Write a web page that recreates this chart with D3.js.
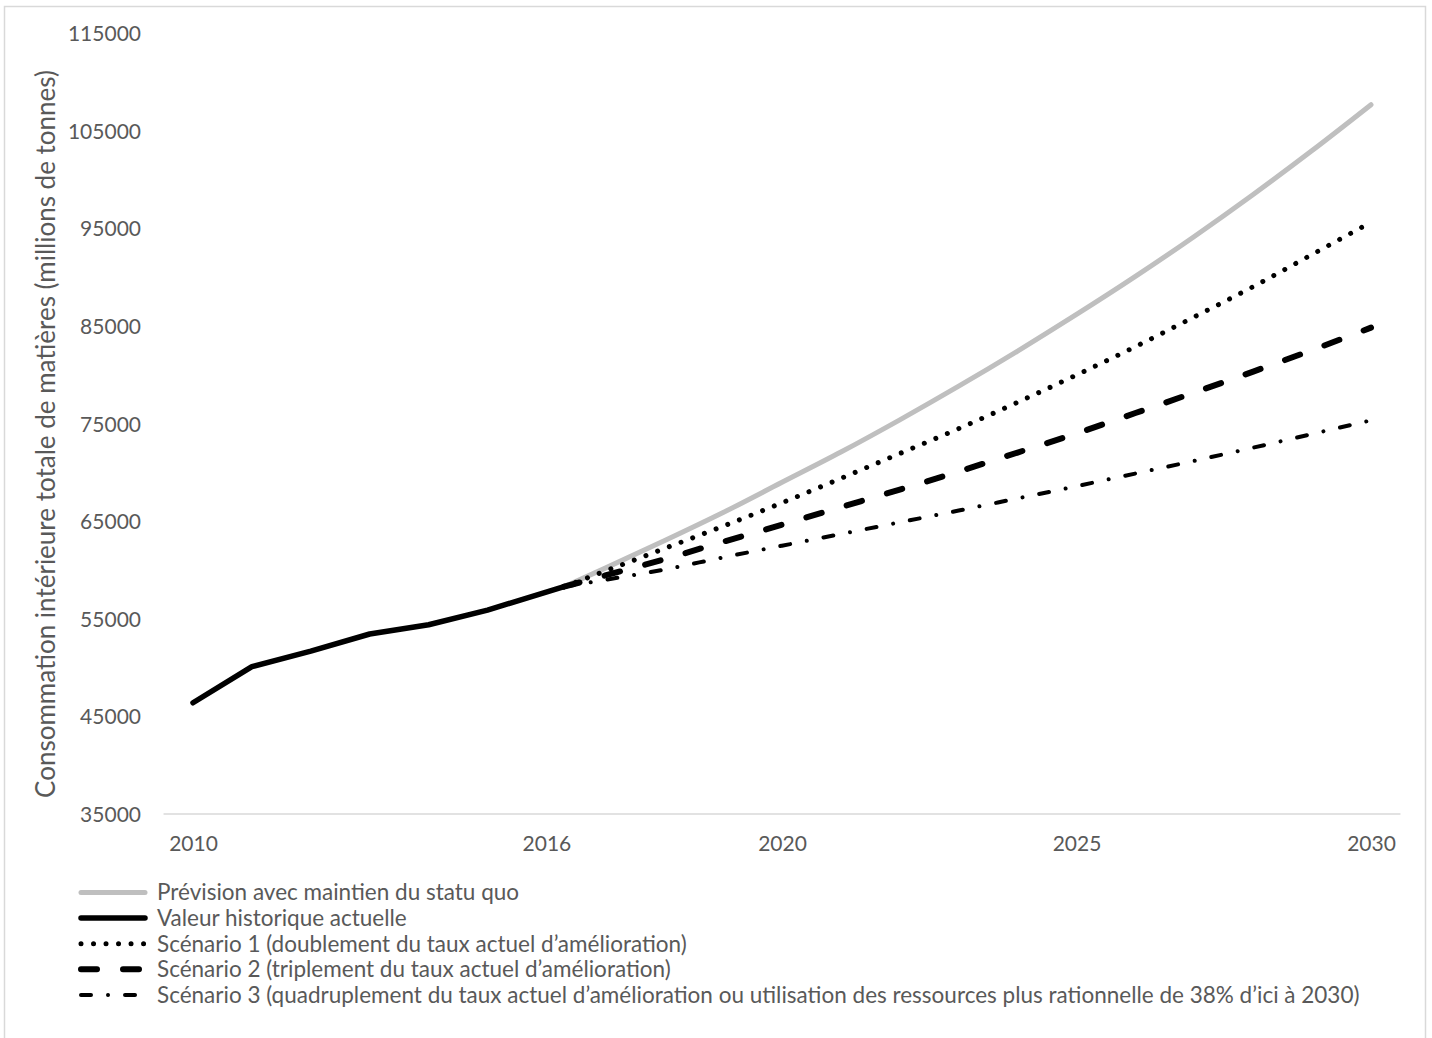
<!DOCTYPE html>
<html>
<head>
<meta charset="utf-8">
<script src="https://cdn.jsdelivr.net/npm/d3@7"></script>
<style>
  body { margin: 0; background: #fff; }
  text { font-family: Lato, "Open Sans", sans-serif; fill: #595959; }
</style>
</head>
<body>
<svg id="chart"></svg>
<script>
// data
const histYears = [2010, 2011, 2012, 2013, 2014, 2015, 2016.3];
const histValues = [46400, 50100, 51700, 53450, 54400, 55900, 58300];

const projYears = [2016.3, 2017, 2018, 2019, 2020, 2021, 2022, 2023, 2024, 2025, 2026, 2027, 2028, 2029, 2030];
const statusQuo = [58300, 60200, 63000, 65900, 69000, 72100, 75400, 78850, 82450, 86200, 90100, 94200, 98500, 103000, 107700];
const scenario1 = [58300, 59900, 62200, 64500, 66900, 69400, 71950, 74500, 77200, 80000, 82900, 85950, 89050, 92350, 95650];
const scenario2 = [58300, 59450, 61100, 62900, 64650, 66450, 68250, 70100, 72050, 74000, 76100, 78200, 80350, 82550, 84850];
const scenario3 = [58300, 59000, 60050, 61300, 62500, 63700, 64900, 66100, 67350, 68600, 69900, 71200, 72550, 73950, 75350];

const xTicks = [2010, 2016, 2020, 2025, 2030];
const yTicks = [35000, 45000, 55000, 65000, 75000, 85000, 95000, 105000, 115000];

const legendLabels = [
  'Prévision avec maintien du statu quo',
  'Valeur historique actuelle',
  'Scénario 1 (doublement du taux actuel d’amélioration)',
  'Scénario 2 (triplement du taux actuel d’amélioration)',
  'Scénario 3 (quadruplement du taux actuel d’amélioration ou utilisation des ressources plus rationnelle de 38% d’ici à 2030)'
];

const width = 1432;
const height = 1038;

const styles = [
  { color: '#bfbfbf', width: 5, dash: null },
  { color: '#000', width: 5.5, dash: null },
  { color: '#000', width: 5, dash: '0.01 12.5' },
  { color: '#000', width: 6, dash: '16 26' },
  { color: '#000', width: 4, dash: '10 17 0.01 17' }
];

const series = [
  { years: projYears, values: statusQuo, curve: d3.curveMonotoneX },
  { years: histYears, values: histValues, curve: d3.curveLinear },
  { years: projYears, values: scenario1, curve: d3.curveMonotoneX },
  { years: projYears, values: scenario2, curve: d3.curveMonotoneX },
  { years: projYears, values: scenario3, curve: d3.curveMonotoneX }
];

const svg = d3.select('#chart')
  .attr('width', width)
  .attr('height', height);

// outer frame
svg.append('rect')
  .attr('x', 4.5).attr('y', 6.5)
  .attr('width', 1421).attr('height', 1040)
  .attr('fill', 'none')
  .attr('stroke', '#d9d9d9')
  .attr('stroke-width', 1.5);

const x = d3.scaleLinear().domain([2010, 2030]).range([193, 1371]);
const y = d3.scaleLinear().domain([35000, 115000]).range([814, 33.5]);

// y axis labels
const yAxis = svg.append('g')
  .attr('transform', 'translate(141,0)')
  .call(d3.axisLeft(y).tickValues(yTicks).tickSize(0).tickPadding(0).tickFormat(d3.format('d')));
yAxis.select('.domain').remove();
yAxis.selectAll('text')
  .attr('x', 0)
  .attr('dy', '0.35em')
  .style('font-size', '21px')
  .style('font-family', 'Lato, sans-serif')
  .attr('fill', '#595959');

// x axis labels + baseline
const xAxis = svg.append('g')
  .attr('transform', `translate(0,${y(35000)})`)
  .call(d3.axisBottom(x).tickValues(xTicks).tickSize(0).tickPadding(0).tickFormat(d3.format('d')));
xAxis.select('.domain').remove();
xAxis.selectAll('text')
  .attr('y', 30)
  .attr('dy', '0.35em')
  .style('font-size', '21px')
  .style('font-family', 'Lato, sans-serif')
  .attr('fill', '#595959');

svg.append('line')
  .attr('x1', x(2009.5)).attr('x2', x(2030.5))
  .attr('y1', y(35000)).attr('y2', y(35000))
  .attr('stroke', '#d9d9d9')
  .attr('stroke-width', 1.5);

// axis title
svg.append('text')
  .attr('transform', 'translate(46,434) rotate(-90)')
  .attr('text-anchor', 'middle')
  .attr('dy', '0.35em')
  .style('font-size', '26px')
  .text('Consommation intérieure totale de matières (millions de tonnes)');

// lines
series.forEach((s, i) => {
  const st = styles[i];
  const line = d3.line()
    .curve(s.curve)
    .x(d => x(d[0]))
    .y(d => y(d[1]));
  svg.append('path')
    .datum(s.years.map((yr, j) => [yr, s.values[j]]))
    .attr('d', line)
    .attr('fill', 'none')
    .attr('stroke', st.color)
    .attr('stroke-width', st.width)
    .attr('stroke-linecap', 'round')
    .attr('stroke-linejoin', 'round')
    .attr('stroke-dasharray', st.dash);
});

// legend
const legend = svg.append('g');
legendLabels.forEach((label, i) => {
  const st = styles[i];
  const ly = 892.5 + i * 25.6;
  legend.append('line')
    .attr('x1', 81).attr('x2', 145)
    .attr('y1', ly).attr('y2', ly)
    .attr('stroke', st.color)
    .attr('stroke-width', st.width)
    .attr('stroke-linecap', 'round')
    .attr('stroke-dasharray', st.dash);
  legend.append('text')
    .attr('x', 157)
    .attr('y', ly)
    .attr('dy', '0.35em')
    .style('font-size', '22.5px')
    .text(label);
});
</script>
</body>
</html>
